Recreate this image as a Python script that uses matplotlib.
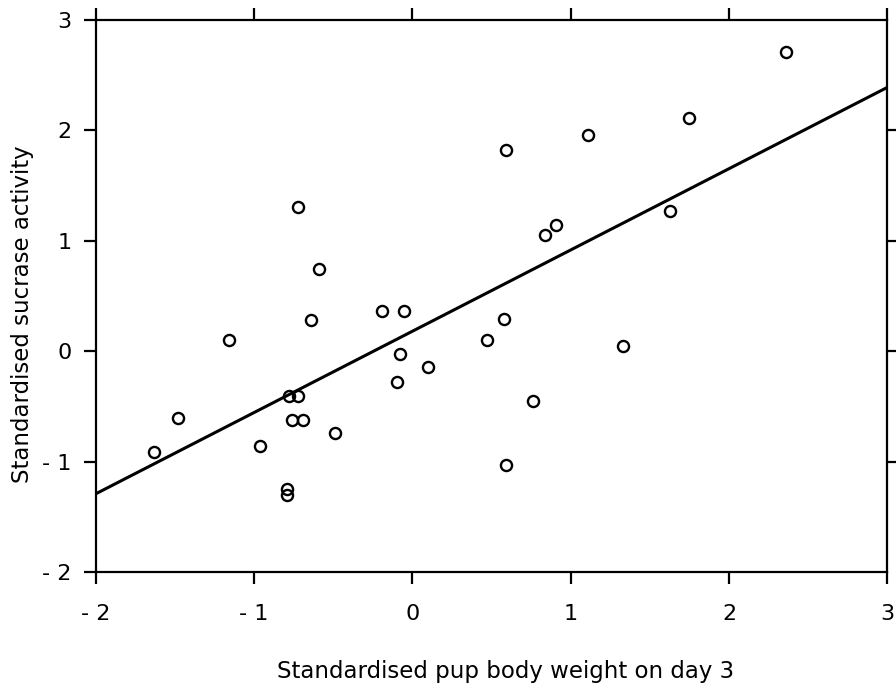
import matplotlib
matplotlib.use("Agg")
import matplotlib.pyplot as plt

# standardised values
pup_weight = [-1.63, -1.48, -1.16, -0.96, -0.79, -0.79, -0.78, -0.72, -0.76, -0.69,
              -0.59, -0.64, -0.72, -0.49, -0.19, -0.05, -0.08, -0.10, 0.10, 0.58,
              0.47, 1.33, 0.76, 0.59, 0.59, 0.84, 0.91, 1.11, 1.75, 1.63, 2.36]
sucrase = [-0.91, -0.60, 0.10, -0.86, -1.25, -1.30, -0.40, -0.40, -0.62, -0.62,
           0.75, 0.28, 1.31, -0.74, 0.37, 0.37, -0.02, -0.28, -0.14, 0.29,
           0.10, 0.05, -0.45, -1.03, 1.82, 1.05, 1.14, 1.96, 2.11, 1.27, 2.71]

# fitted regression line
fit_x = [-2, 3]
fit_y = [-1.29, 2.39]

x_ticks = [-2, -1, 0, 1, 2, 3]
x_tick_labels = ['- 2', '- 1', '0', '1', '2', '3']
y_ticks = [-2, -1, 0, 1, 2, 3]
y_tick_labels = ['- 2', '- 1', '0', '1', '2', '3']

plt.rcParams['font.family'] = 'DejaVu Sans'

fig = plt.figure(figsize=(8.96, 6.93), dpi=100)
ax = fig.add_axes([0.1068, 0.1742, 0.8835, 0.7969])

ax.plot(pup_weight, sucrase, 'o', markersize=8, markerfacecolor='none',
        markeredgecolor='black', markeredgewidth=1.7, clip_on=False, zorder=3)
ax.plot(fit_x, fit_y, color='black', linewidth=2.2)

ax.set_xlim(-2, 3)
ax.set_ylim(-2, 3)
ax.set_xticks(x_ticks)
ax.set_xticklabels(x_tick_labels)
ax.set_yticks(y_ticks)
ax.set_yticklabels(y_tick_labels)

for s in ax.spines.values():
    s.set_linewidth(1.6)

ax.tick_params(axis='both', direction='out', length=8.5, width=1.6,
               labelsize=16, top=True)
ax.tick_params(axis='x', pad=14)
ax.tick_params(axis='y', pad=9)

# right-hand ticks only on the inner values
ax2 = ax.twinx()
ax2.set_ylim(-2, 3)
ax2.set_yticks([-1, 0, 1, 2])
ax2.tick_params(axis='y', direction='out', length=8.5, width=1.6, labelright=False)
for s in ax2.spines.values():
    s.set_visible(False)

ax.set_xlabel('Standardised pup body weight on day 3', fontsize=16.5)
ax.set_ylabel('Standardised sucrase activity', fontsize=16.5)
ax.xaxis.set_label_coords(0.518, -0.179)
ax.xaxis.label.set_va('center')
ax.yaxis.set_label_coords(-0.093, 0.468)
ax.yaxis.label.set_va('center')
ax.yaxis.label.set_ha('center')

fig.savefig('out.png', dpi=100)
